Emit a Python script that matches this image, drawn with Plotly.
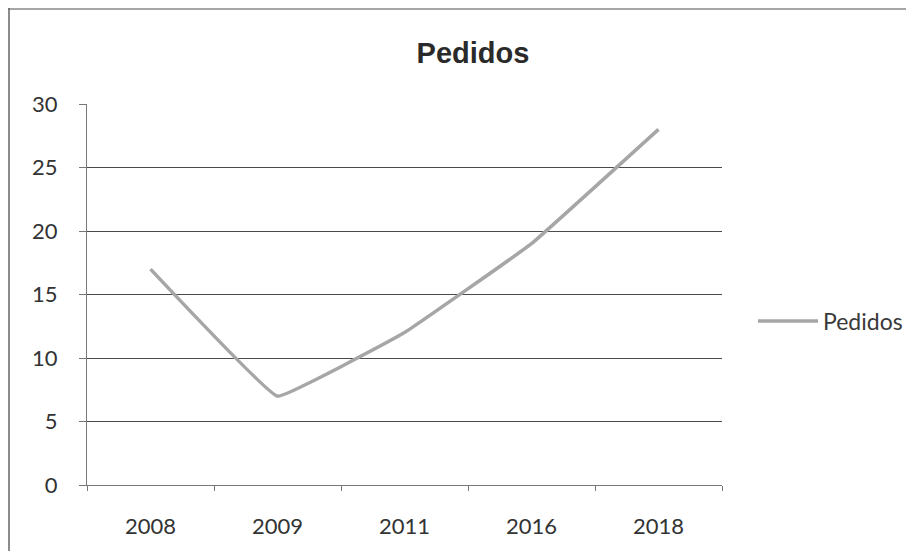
import plotly.graph_objects as go

categories = ["2008", "2009", "2011", "2016", "2018"]
pedidos = [17, 7, 12, 19, 28]
y_ticks = [0, 5, 10, 15, 20, 25, 30]
series_name = "Pedidos"
title_text = "Pedidos"

# page is shown with an 8px body margin; work in page pixels and subtract it
OFF = 8
W, H = 900, 544
L, R, T, B = 87 - OFF, 722 - OFF, 104 - OFF, 485 - OFF


def px(x):
    return (x - OFF - L) / (R - L)


def py(y):
    return (B - (y - OFF)) / (B - T)


fig = go.Figure()
fig.add_trace(go.Scatter(
    x=categories, y=pedidos, mode="lines", name=series_name,
    line=dict(color="#a6a6a6", width=3.5, shape="spline", smoothing=0.2),
))

fig.update_layout(
    width=W, height=H,
    margin=dict(l=L, r=W - R, t=T, b=H - B, autoexpand=False),
    paper_bgcolor="white", plot_bgcolor="white",
    title=dict(text=title_text, x=(473 - OFF) / W, xanchor="center",
               y=1 - (53 - OFF) / H, yanchor="middle",
               font=dict(family="Liberation Sans, Arial", size=29, color="#2a2a2a",
                         weight="bold")),
    showlegend=True,
    legend=dict(x=px(753), y=py(321), xanchor="left", yanchor="middle",
                font=dict(family="Lato, Open Sans", size=23, color="#3a3a3a"),
                bgcolor="rgba(0,0,0,0)", itemwidth=60),
    font=dict(family="Lato, Open Sans", size=22, color="#333"),
    xaxis=dict(type="category", showgrid=False, showline=True, linecolor="#777", linewidth=1,
               ticks="outside", ticklen=5, tickcolor="#777", tickson="boundaries",
               tickfont=dict(size=22, color="#333"), range=[-0.5, 4.5],
               ticklabelstandoff=22),
    yaxis=dict(range=[0, 30], tickvals=y_ticks, showgrid=True, gridcolor="#4a4a4a", gridwidth=1,
               showline=True, linecolor="#777", linewidth=1, ticks="outside", ticklen=7,
               tickcolor="#777", tickfont=dict(size=22, color="#333"), zeroline=False,
               ticklabelstandoff=17),
    shapes=[
        dict(type="line", xref="paper", yref="paper", x0=px(8), x1=px(906), y0=py(9), y1=py(9),
             line=dict(color="#888", width=1.5)),
        dict(type="line", xref="paper", yref="paper", x0=px(9), x1=px(9), y0=py(8), y1=py(551),
             line=dict(color="#666", width=1.5)),
    ],
)

fig.write_html("out.html")
